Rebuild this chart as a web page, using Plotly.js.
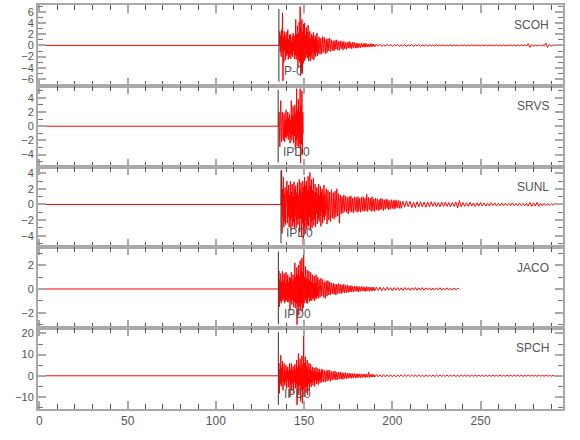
<!DOCTYPE html>
<html>
<head>
<meta charset="utf-8">
<script src="https://cdn.plot.ly/plotly-3.0.1.min.js"></script>
<style>html,body{margin:0;padding:0;background:#fff;}#chart{width:580px;height:440px;}</style>
</head>
<body>
<div id="chart"></div>
<script>
// ---- data ----
var stations = ["SCOH", "SRVS", "SUNL", "JACO", "SPCH"];
var pickLabels = ["P-0", "IPD0", "IPD0", "IPD0", "IPD0"];
var picks = [135.7, 135.3, 136.9, 135.4, 135.4];          // pick time (s)
var onsets = [136.0, 135.5, 137.0, 135.5, 135.5];         // signal onset (s)
var segSteps = [0.25, 0.5, 1.0];  // sample spacing (s) of: main burst, decay, coda

// SCOH
var scohMain = [2.5,-1.2,1.8,-2.0, 2.8,-0.8,5.8,-6.3, 1.5,-3.0,2.5,-1.0, 2.0,-2.6,1.2,-1.8,
  2.4,-1.5,2.8,-2.5, 1.0,-2.2,1.9,-1.4, 2.0,-2.4,0.8,-1.6, 1.6,-2.0,2.2,-1.0,
  1.8,-2.4,1.4,-1.7, 4.6,-2.5,2.0,-1.8, 3.5,-4.0,2.2,-2.6, 4.2,-3.0,6.9,-5.4,
  3.0,-4.6,4.6,-5.0, 2.4,-3.2,3.8,-2.8, 4.0,-2.5,1.8,-2.2, 3.2,-1.6,2.4,-2.2,
  3.6,-2.8,1.5,-2.0, 2.5,-2.8,1.2,-1.8, 2.0,-2.4,1.6,-1.2, 2.3,-2.6,1.0,-1.7,
  1.8,-2.0,1.4,-1.2, 2.2,-1.9,1.0,-1.5];
var scohDecay = [1.5,-1.6,1.3,-1.5,1.6,-1.2,1.4,-1.5,1.1,-1.3,1.2,-1.0,1.3,-1.1,
  1.0,-0.9,0.8,-1.0,0.9,-0.7,1.0,-0.8,0.7,-0.9,0.8,-0.6,0.7,-0.8,
  0.7,-0.6,0.5,-0.7,0.6,-0.5,0.7,-0.5,0.5,-0.6,0.6,-0.4,0.5,-0.5,0.4,-0.5,
  0.4,-0.4,0.3,-0.4,0.4,-0.3,0.3,-0.35,0.4,-0.3,0.3,-0.3,0.25,-0.3,0.3,-0.25,0.3,-0.2,0.25,-0.25];
var scohCoda = [0.2,-0.15,0.2,-0.2,0.1,-0.15,0.2,-0.1,0.15,-0.2,
  0.15,-0.1,0.2,-0.15,0.1,-0.15,0.15,-0.2,0.1,-0.1,
  0.15,-0.15,0.1,-0.1,0.15,-0.15,0.1,-0.1,0.12,-0.1,
  0.1,-0.12,0.1,-0.1,0.12,-0.1,0.1,-0.08,0.1,-0.1,
  0.08,-0.1,0.1,-0.08,0.1,-0.1,0.08,-0.08,0.1,-0.08,
  0.08,-0.1,0.08,-0.08,0.1,-0.08,0.08,-0.08,0.08,-0.1,
  0.08,-0.08,0.1,-0.08,0.08,-0.08,0.08,-0.08,0.1,-0.08,
  0.08,-0.08,0.08,-0.1,0.08,-0.08,0.08,-0.08,0.08,-0.08,
  0.08,-0.08,0.1,-0.08,0.08,-0.1,0.3,-0.35,0.15,-0.1,
  0.08,-0.08,0.1,-0.08,0.1,-0.1,0.4,-0.35,0.15,-0.1,
  0.08,-0.05,0];

// SRVS
var srvsMain = [2.0,-1.0,-2.9,1.5, 3.6,-1.2,-2.2,1.8, 2.0,-1.4,-2.0,1.2, 1.8,-2.2,0.9,-1.5,
  2.3,-1.6,1.0,-1.3, 2.0,-1.9,1.2,-0.8, 1.7,-2.4,0.9,-1.6, 3.6,-2.0,1.5,-1.2,
  2.8,-2.4,1.6,-1.4, 3.0,-3.3,1.8,-2.0, 5.3,-2.8,2.2,-1.6, 3.8,-3.0,2.0,-2.4,
  5.3,-5.2,3.0,-2.5, 5.0,-4.0,2.0,-1.0];
var srvsDecay = [];
var srvsCoda = [];

// SUNL
var sunlMain = [4.4,-3.7,2.0,-1.5, 3.5,-2.9,1.4,-2.2, 2.2,-2.6,1.5,-1.0, 3.0,-2.4,1.8,-1.6,
  2.5,-2.9,1.2,-2.0, 3.0,-3.3,1.6,-1.8, 2.6,-2.8,1.0,-2.2, 2.9,-3.1,1.9,-1.4,
  2.4,-3.0,1.5,-2.0, 2.8,-2.6,1.2,-1.7, 3.2,-3.5,2.0,-1.8, 2.8,-4.0,1.6,-2.4,
  3.0,-5.2,2.2,-3.0, 3.5,-3.7,2.4,-2.0, 3.0,-3.2,1.8,-2.6, 3.6,-2.8,2.0,-1.6,
  4.1,-3.4,2.4,-2.2, 3.2,-3.0,1.8,-2.0, 3.4,-2.7,1.5,-1.9, 2.6,-2.9,1.6,-1.2,
  2.2,-2.5,1.4,-1.8, 2.6,-2.2,1.2,-1.5, 2.3,-2.8,1.6,-1.0, 2.0,-2.4,1.1,-1.6,
  2.5,-2.0,1.3,-1.4];
var sunlDecay = [2.0,-2.5,1.8,-2.0,1.6,-2.2,1.9,-1.7,1.5,-1.9,1.7,-1.6,2.0,-1.5,1.4,-2.4,
  1.2,-1.2,1.0,-1.1,1.2,-0.9,1.1,-1.0,0.9,-1.2,1.0,-0.9,1.1,-1.0,0.8,-1.1,1.0,-0.8,0.9,-1.0,
  1.0,-0.9,0.8,-1.0,0.9,-0.8,1.0,-0.9,0.8,-0.8,1.3,-0.9,0.9,-0.7,0.8,-0.9,1.0,-0.8,0.7,-0.9,
  0.8,-0.7,0.7,-0.8,0.6,-0.7,0.8,-0.6,0.7,-0.8,0.6,-0.6,0.7,-0.5,0.6,-0.7,0.5,-0.6,0.6,-0.5,
  0.5,-0.6,0.6,-0.5,0.5,-0.4,0.5,-0.5,0.4,-0.5];
var sunlCoda = [0.4,-0.35,0.45,-0.3,0.4,-0.4,0.3,-0.4,0.35,-0.3,
  0.35,-0.3,0.3,-0.35,0.3,-0.3,0.35,-0.25,0.3,-0.3,
  0.25,-0.3,0.3,-0.25,0.3,-0.25,0.25,-0.3,0.25,-0.25,
  0.3,-0.45,0.5,-0.3,0.25,-0.25,0.2,-0.25,0.25,-0.2,
  0.2,-0.25,0.2,-0.2,0.25,-0.2,0.2,-0.2,0.15,-0.2,
  0.2,-0.15,0.2,-0.2,0.15,-0.15,0.2,-0.15,0.15,-0.15,
  0.15,-0.15,0.2,-0.15,0.15,-0.15,0.15,-0.15,0.15,-0.15,
  0.15,-0.2,0.25,-0.25,0.2,-0.2,0.25,-0.2,0.15,-0.15,
  0.15,-0.15,0.12,-0.12,0.12,-0.1,0.1,0];

// JACO
var jacoMain = [1.5,-1.5,0.8,-1.0, 1.3,-1.2,0.6,-0.9, 1.5,-1.0,0.7,-0.8, 1.3,-1.2,0.5,-1.0,
  1.4,-0.9,0.8,-1.1, 1.2,-1.1,0.6,-0.7, 1.0,-1.8,0.9,-1.0, 1.4,-1.3,0.7,-0.9,
  1.2,-1.5,0.8,-1.1, 2.2,-1.6,1.0,-1.2, 1.8,-3.0,1.2,-1.4, 2.0,-2.2,1.1,-1.5,
  2.4,-1.8,1.6,-1.2, 2.6,-2.0,1.4,-1.6, 3.3,-1.2,1.0,-0.8, 1.9,-1.0,0.9,-1.2,
  1.6,-1.2,0.8,-0.7, 1.5,-1.05,0.7,-0.9, 1.4,-1.0,0.6,-0.8, 1.2,-0.9,0.5,-0.8,
  1.1,-1.0,0.6,-0.7, 1.2,-0.8,0.5,-0.6, 1.0,-0.8];
var jacoDecay = [0.8,-0.7,0.9,-0.6,0.8,-0.7,0.6,-0.8,0.7,-0.6,0.7,-0.5,0.6,-0.5,
  0.5,-0.4,0.5,-0.45,0.4,-0.5,0.4,-0.4,0.45,-0.35,0.4,-0.4,0.35,-0.3,0.4,-0.35,0.3,-0.3,0.35,-0.3,
  0.25,-0.25,0.3,-0.25,0.2,-0.25,0.25,-0.2,0.25,-0.2,0.2,-0.25,0.2,-0.2,0.2,-0.15,0.2,-0.2,
  0.15,-0.2,0.2,-0.15,0.15,-0.2,0.15,-0.15,0.15,-0.15,0.15,-0.15];
var jacoCoda = [0.15,-0.12,0.15,-0.15,0.12,-0.12,0.15,-0.1,0.12,-0.15,
  0.12,-0.1,0.12,-0.12,0.1,-0.12,0.12,-0.1,0.1,-0.12,
  0.1,-0.1,0.12,-0.1,0.1,-0.1,0.12,-0.1,0.1,-0.08,
  0.1,-0.1,0.08,-0.1,0.1,-0.08,0.1,-0.1,0.08,-0.08,
  0.1,-0.08,0.08,-0.1,0.08,-0.08,0.05,0];

// SPCH
var spchMain = [6.0,-8.3,3.0,-4.0, 9.7,-5.0,4.0,-3.0, 7.0,-6.8,2.5,-3.5, 5.8,-4.5,2.0,-3.0,
  5.0,-6.0,3.0,-2.0, 4.2,-5.5,2.2,-2.8, 5.8,-10.0,3.0,-4.0, 5.8,-7.0,2.5,-3.5,
  4.5,-8.5,3.2,-3.0, 5.5,-6.0,2.8,-4.0, 7.5,-13.8,4.0,-5.0, 10.5,-9.0,5.0,-4.5,
  8.0,-12.0,4.0,-6.0, 9.5,-13.0,5.5,-6.5, 21.5,-10.0,6.0,-5.0, 9.0,-8.0,4.5,-5.5,
  7.5,-9.0,3.5,-4.0, 6.0,-7.0,3.0,-3.5, 5.5,-5.2,2.5,-3.0, 4.2,-4.5,2.0,-2.5,
  3.8,-5.0,2.2,-2.0, 4.0,-3.8,1.8,-2.4, 3.5,-4.2,1.6,-2.0, 3.2,-3.5,1.5,-1.8,
  3.0,-3.0];
var spchDecay = [3.0,-2.8,2.6,-3.0,2.4,-2.5,2.8,-2.2,2.5,-2.6,2.2,-2.0,
  2.0,-1.8,2.2,-1.9,1.7,-2.0,1.6,-1.5,1.8,-1.6,1.5,-1.7,1.4,-1.3,1.5,-1.4,1.2,-1.2,
  1.2,-1.0,1.1,-1.2,1.0,-0.9,1.1,-1.0,0.9,-1.0,1.0,-0.8,0.9,-0.9,0.8,-0.8,0.9,-0.7,
  0.8,-0.8,0.7,-0.7,1.8,-0.8,0.7,-0.6,0.7,-0.6,0.6,-0.6];
var spchCoda = [0.6,-0.5,0.5,-0.6,0.5,-0.5,0.5,-0.4,0.5,-0.5,
  0.4,-0.5,0.4,-0.4,0.5,-0.4,0.4,-0.4,0.4,-0.35,
  0.4,-0.4,0.35,-0.35,0.4,-0.35,0.35,-0.35,0.3,-0.35,
  0.35,-0.3,0.3,-0.35,0.3,-0.3,0.35,-0.3,0.3,-0.3,
  0.3,-0.3,0.3,-0.25,0.3,-0.3,0.25,-0.3,0.3,-0.25,
  0.3,-0.25,0.25,-0.3,0.25,-0.25,0.3,-0.25,0.25,-0.25,
  0.25,-0.3,0.25,-0.25,0.3,-0.25,0.25,-0.25,0.25,-0.2,
  0.25,-0.25,0.2,-0.25,0.25,-0.2,0.25,-0.25,0.2,-0.2,
  0.25,-0.2,0.2,-0.25,0.2,-0.2,0.25,-0.2,0.2,-0.2,
  0.2,-0.25,0.2,-0.2,0.2,-0.2,0.25,-0.2,0.2,-0.2,
  0.2,-0.2,0.2,-0.15,0.2,-0.15,0];

var mains = [scohMain, srvsMain, sunlMain, jacoMain, spchMain];
var decays = [scohDecay, srvsDecay, sunlDecay, jacoDecay, spchDecay];
var codas = [scohCoda, srvsCoda, sunlCoda, jacoCoda, spchCoda];
var yRanges = [[-7.2, 7.2], [-5.7, 5.7], [-5.5, 4.85], [-3.3, 3.5], [-15.7, 22.5]];
var yDticks = [2, 2, 2, 2, 10];
var yMinor = [1, 1, 1, 1, 5];
var xRange = [-0.8, 296.7];

(function () {
  var RED = '#ff0000', FRAME = '#a9a9a9', TXT = '#555555';
  var FONT = 'Liberation Sans Narrow, Liberation Sans, Arial, sans-serif';
  var traces = [], shapes = [], annotations = [];
  var layout = {
    width: 580, height: 440,
    margin: {l: 38, r: 17, t: 5, b: 31},
    paper_bgcolor: '#ffffff', plot_bgcolor: '#ffffff',
    showlegend: false,
    font: {family: FONT, size: 11, color: TXT}
  };
  var n = stations.length;
  for (var i = 0; i < n; i++) {
    var xs = [0, onsets[i]], ys = [0, 0];
    var t = onsets[i];
    var segs = [mains[i], decays[i], codas[i]];
    for (var s = 0; s < segs.length; s++) {
      for (var k = 0; k < segs[s].length; k++) { t += segSteps[s]; xs.push(t); ys.push(segs[s][k]); }
    }
    var sx = i === 0 ? '' : String(i + 1);
    traces.push({x: xs, y: ys, xaxis: 'x' + sx, yaxis: 'y' + sx, type: 'scatter', mode: 'lines',
      line: {color: RED, width: 1}, hoverinfo: 'skip'});
    var dTop = 1 - i / n, dBot = 1 - (i + 1) / n;
    layout['xaxis' + sx] = {
      domain: [0, 1], anchor: 'y' + sx, range: xRange,
      showline: true, linecolor: FRAME, linewidth: 2, mirror: 'ticks',
      ticks: 'inside', ticklen: 8, tickwidth: 2, tickcolor: FRAME,
      tick0: 0, dtick: 50, showgrid: false, zeroline: false,
      showticklabels: i === n - 1, tickfont: {family: FONT, size: 12, color: TXT},
      minor: {dtick: 10, tick0: 0, ticklen: 5, tickwidth: 1, tickcolor: '#555555', ticks: 'inside', showgrid: false}
    };
    layout['yaxis' + sx] = {
      domain: [dBot, dTop], anchor: 'x' + sx, range: yRanges[i],
      showline: true, linecolor: FRAME, linewidth: 2, mirror: 'ticks',
      ticks: 'inside', ticklen: 8, tickwidth: 2, tickcolor: FRAME,
      tick0: 0, dtick: yDticks[i], showgrid: false, zeroline: false,
      tickfont: {family: FONT, size: 11, color: TXT},
      minor: {dtick: yMinor[i], tick0: 0, ticklen: 5, tickwidth: 1, tickcolor: '#777777', ticks: 'inside', showgrid: false}
    };
    shapes.push({type: 'line', xref: 'x' + sx, yref: 'y' + sx + ' domain',
      x0: picks[i], x1: picks[i], y0: 0.05, y1: 0.95, line: {color: '#333333', width: 1}});
    annotations.push({xref: 'paper', yref: 'y' + sx + ' domain', x: 0.978, y: 0.75,
      xanchor: 'right', yanchor: 'middle', text: stations[i], showarrow: false,
      font: {family: FONT, size: 12, color: TXT}});
    annotations.push({xref: 'x' + sx, yref: 'y' + sx + ' domain', x: picks[i] + 1.8, y: 0.18,
      xanchor: 'left', yanchor: 'middle', text: pickLabels[i], showarrow: false,
      font: {family: FONT, size: 12, color: TXT}});
  }
  layout.shapes = shapes;
  layout.annotations = annotations;
  Plotly.newPlot('chart', traces, layout, {displayModeBar: false, staticPlot: true});
})();
</script>
</body>
</html>
